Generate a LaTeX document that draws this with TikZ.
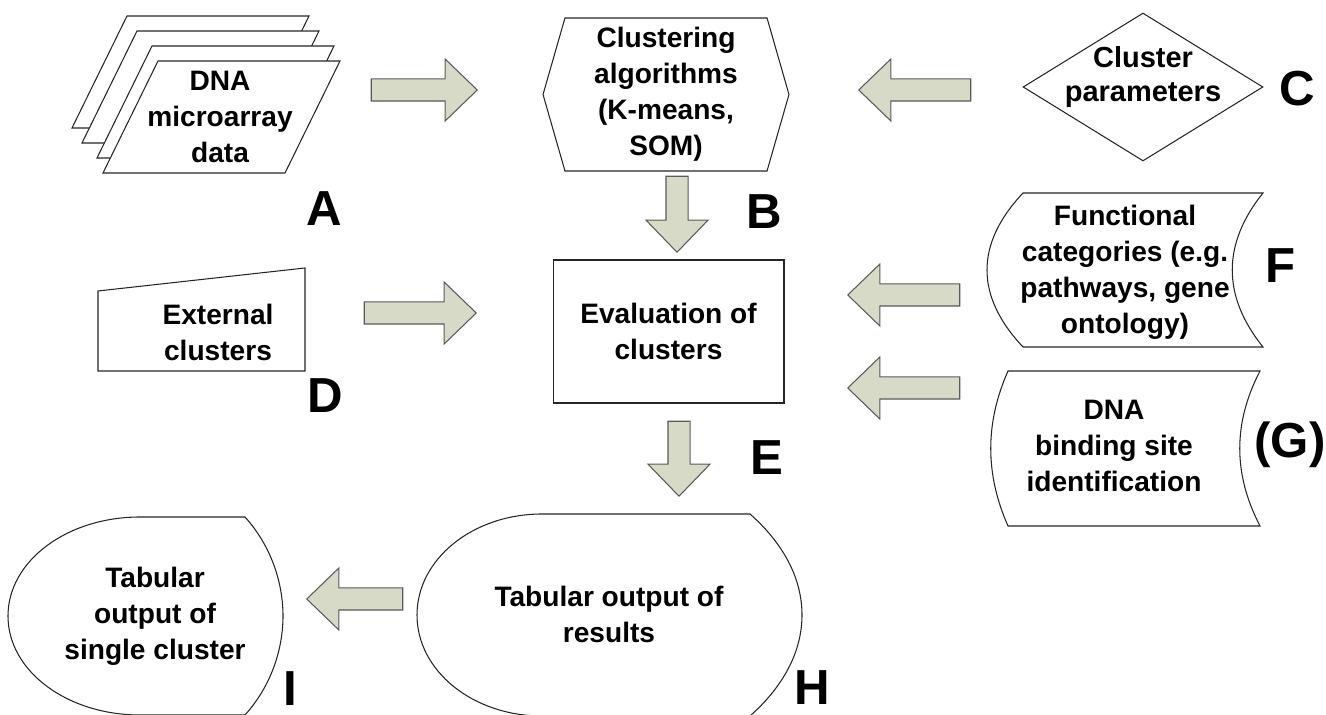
\documentclass[tikz,border=0pt]{standalone}
\usepackage{fontspec}
\setmainfont{Liberation Sans}
\usepackage{xcolor}
\usepackage{tikz}
\usetikzlibrary{shapes.geometric, shapes.arrows, shapes.symbols}
\definecolor{arrowfill}{RGB}{214,218,199}
\definecolor{arrowline}{RGB}{90,90,90}
\tikzstyle{txt} = [align=center, inner sep=0pt, font=\fontsize{16}{20.5}\selectfont\bfseries]
\tikzstyle{tag} = [inner sep=0pt, font=\fontsize{28}{30}\selectfont\bfseries]
\tikzstyle{shapeline} = [draw=black!85, line width=0.6pt, fill=white]
\tikzstyle{algo} = [signal, signal to=west and east, signal pointer angle=148, minimum width=4.92cm, minimum height=3.06cm, inner sep=1pt, shapeline]
\tikzstyle{param} = [diamond, minimum width=4.8cm, minimum height=2.96cm, inner sep=1pt, shapeline]
\tikzstyle{process} = [rectangle, minimum width=4.62cm, minimum height=2.86cm, inner sep=1pt, shapeline]
\tikzstyle{bigarrow} = [single arrow, single arrow tip angle=88, single arrow head extend=0.4cm, minimum width=1.22cm, inner sep=0.21cm, draw=arrowline, fill=arrowfill, line width=0.6pt, anchor=tip]

\begin{document}
\begin{tikzpicture}[x=0.02cm, y=-0.02cm]
\useasboundingbox (0,0) rectangle (1326,715);
% input data, stacked sheets
\draw [shapeline] (127,16) -- (309,16) -- (254,128) -- (72,128) -- cycle;
\draw [shapeline] (137,31) -- (319,31) -- (264,143) -- (82,143) -- cycle;
\draw [shapeline] (152,46) -- (334,46) -- (279,158) -- (97,158) -- cycle;
\draw [shapeline] (158,61) -- (340,61) -- (285,173) -- (103,173) -- cycle;
\node (dna) [txt] at (220,117) {DNA\\microarray\\data};
\node (clalgo) [algo, txt, inner sep=1pt] at (666,94.5) {Clustering\\algorithms\\(K-means,\\SOM)};
\node (clparam) [param] at (1143,87) {};
\node (clparamtxt) [txt, font=\fontsize{16.5}{19}\selectfont\bfseries] at (1143,77) {Cluster\\parameters};
\node (evalclus) [process, txt, inner sep=1pt] at (668.5,331.5) {Evaluation of\\clusters};
% drawn outlines
\draw [shapeline] (98,371) -- (98,291) -- (305,268) -- (305,371) -- cycle;
\node (extclus) [txt] at (218,332) {External\\clusters};
\draw [shapeline] (1023,193) -- (1263,193) .. controls (1222,244) and (1222,296) .. (1263,347) -- (1023,347) .. controls (975,296) and (975,244) .. (1023,193) -- cycle;
\node (funccat) [txt] at (1125,272) {Functional\\categories (e.g.\\pathways, gene\\ontology)};
\draw [shapeline] (1008,371) -- (1260,371) .. controls (1233,423) and (1233,474) .. (1260,526) -- (1008,526) .. controls (985,474) and (985,423) .. (1008,371) -- cycle;
\node (bindsite) [txt] at (1114,446) {DNA\\binding site\\identification};
\draw [shapeline] (542,514) -- (750,514) .. controls (785,545) and (802,580) .. (802,615) .. controls (802,650) and (785,685) .. (750,716) -- (542,716) .. controls (473,716) and (417,671) .. (417,615) .. controls (417,559) and (473,514) .. (542,514) -- cycle;
\node (tabres) [txt] at (609,614) {Tabular output of\\results};
\draw [shapeline] (140,517) -- (245,517) .. controls (272,547) and (283,584) .. (283,616) .. controls (283,648) and (272,685) .. (245,715) -- (140,715) .. controls (67,715) and (8,671) .. (8,616) .. controls (8,561) and (67,517) .. (140,517) -- cycle;
\node (tabsingle) [txt] at (155,616) {Tabular\\output of\\single cluster};
% block arrows
\node (a2b) [bigarrow, minimum height=2.12cm] at (478,90) {};
\node (c2b) [bigarrow, minimum height=2.24cm, shape border rotate=180] at (858,90) {};
\node (b2e) [bigarrow, minimum height=1.52cm, shape border rotate=270] at (677,253) {};
\node (d2e) [bigarrow, minimum height=2.24cm] at (477,313) {};
\node (f2e) [bigarrow, minimum height=2.24cm, shape border rotate=180] at (847,295) {};
\node (g2e) [bigarrow, minimum height=2.24cm, shape border rotate=180] at (847,388) {};
\node (e2h) [bigarrow, minimum height=1.5cm, shape border rotate=270] at (679,497) {};
\node (h2i) [bigarrow, minimum height=1.92cm, shape border rotate=180] at (306,599) {};
% letters
\node (taga) [tag] at (324,209) {A};
\node (tagb) [tag] at (764,212) {B};
\node (tagc) [tag] at (1297,89) {C};
\node (tagd) [tag] at (325,396) {D};
\node (tage) [tag] at (767,458) {E};
\node (tagf) [tag] at (1281,266) {F};
\node (tagg) [tag] at (1290,445) {(G)};
\node (tagh) [tag] at (812,688) {H};
\node (tagi) [tag] at (290,689) {I};
\end{tikzpicture}
\end{document}
